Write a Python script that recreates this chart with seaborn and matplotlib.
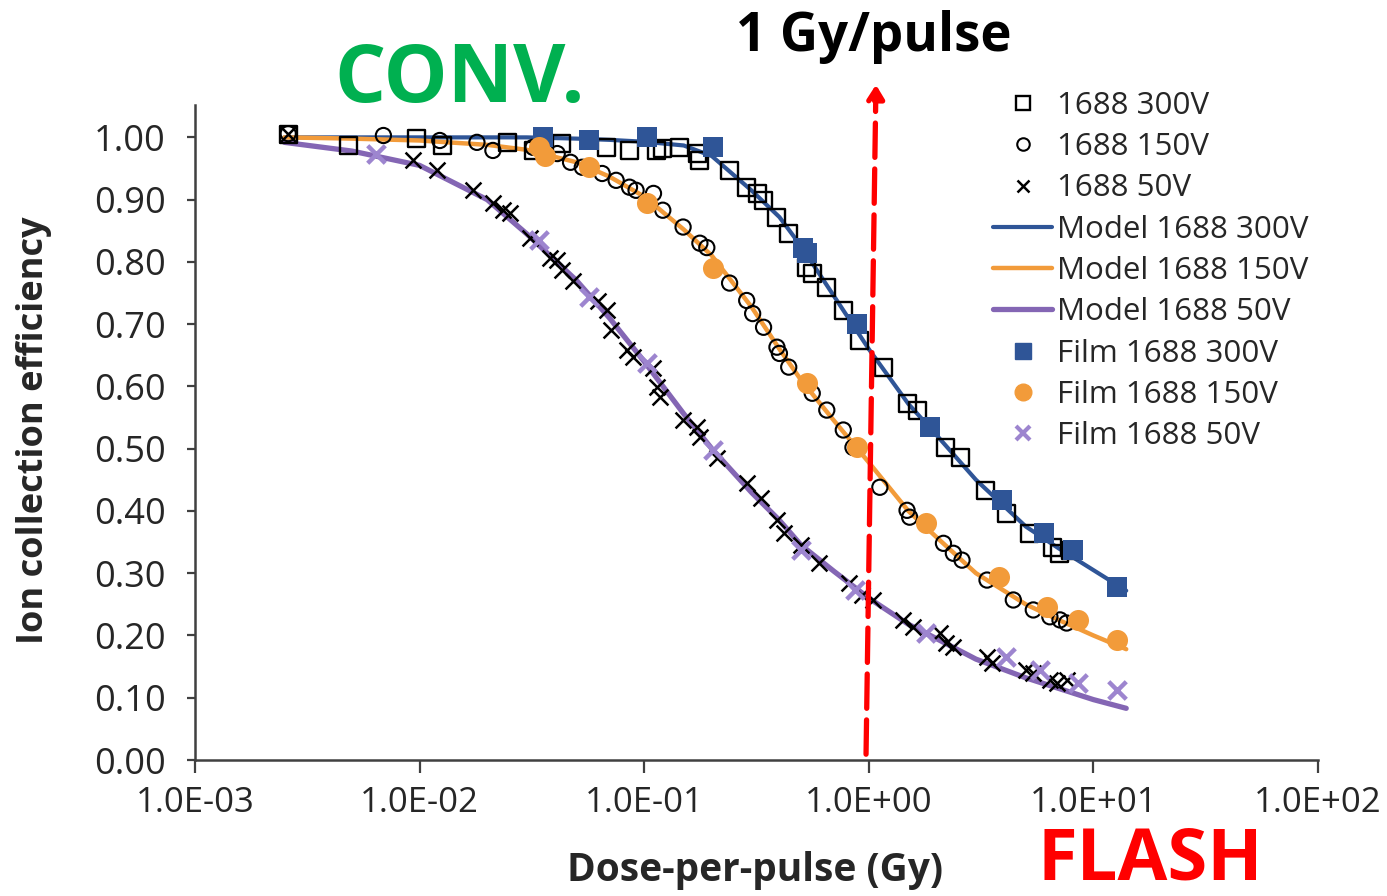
import numpy as np
import pandas as pd
import matplotlib
matplotlib.use("Agg")
import matplotlib.pyplot as plt
import seaborn as sns
from matplotlib.lines import Line2D
from matplotlib.patches import FancyArrowPatch
from matplotlib.ticker import FixedLocator, FuncFormatter, NullLocator

# ---------------- data ----------------
MODEL_DOSE = [0.0025, 0.005, 0.01, 0.02, 0.03, 0.05, 0.07, 0.1, 0.15, 0.2, 0.3,
              0.4, 0.5, 0.7, 1.0, 1.5, 2, 3, 5, 7, 10, 14]
MODEL_300 = [1.0, 1.0, 1.0, 1.0, 1.0, 0.998, 0.996, 0.993, 0.987, 0.97, 0.915,
             0.872, 0.825, 0.745, 0.66, 0.572, 0.522, 0.45, 0.375, 0.34, 0.305, 0.272]
MODEL_150 = [1.0, 0.998, 0.995, 0.988, 0.98, 0.96, 0.937, 0.905, 0.852, 0.81, 0.728,
             0.66, 0.61, 0.545, 0.478, 0.40, 0.358, 0.30, 0.25, 0.225, 0.20, 0.178]
MODEL_50 = [0.992, 0.978, 0.955, 0.90, 0.845, 0.77, 0.71, 0.64, 0.556, 0.50, 0.43,
            0.385, 0.345, 0.303, 0.26, 0.218, 0.195, 0.162, 0.132, 0.115, 0.097, 0.083]

DOSE_300 = [0.0026, 0.0048, 0.0097, 0.0126, 0.0245, 0.032, 0.043, 0.068, 0.086, 0.113,
            0.121, 0.144, 0.172, 0.177, 0.24, 0.286, 0.318, 0.34, 0.39, 0.44, 0.53,
            0.56, 0.65, 0.77, 0.91, 1.16, 1.48, 1.64, 2.2, 2.55, 3.3, 4.1, 5.2, 6.6,
            7.1, 7.9]
ICE_300 = [1.005, 0.987, 0.998, 0.987, 0.992, 0.979, 0.99, 0.984, 0.979, 0.979,
           0.982, 0.984, 0.974, 0.963, 0.947, 0.92, 0.91, 0.899, 0.872, 0.846, 0.791,
           0.782, 0.759, 0.722, 0.674, 0.631, 0.573, 0.562, 0.502, 0.486, 0.433, 0.396,
           0.364, 0.342, 0.332, 0.337]

DOSE_150 = [0.0026, 0.0069, 0.0123, 0.018, 0.0212, 0.032, 0.041, 0.047, 0.053, 0.065,
            0.075, 0.086, 0.092, 0.11, 0.121, 0.149, 0.177, 0.19, 0.24, 0.286, 0.304,
            0.34, 0.39, 0.40, 0.44, 0.56, 0.65, 0.77, 0.85, 1.12, 1.48, 1.52, 2.15,
            2.38, 2.6, 3.36, 4.4, 5.4, 6.4, 7.1, 7.6]
ICE_150 = [1.006, 1.003, 0.995, 0.992, 0.979, 0.984, 0.974, 0.96, 0.952, 0.942,
           0.931, 0.92, 0.915, 0.91, 0.883, 0.856, 0.83, 0.823, 0.766, 0.738, 0.717,
           0.695, 0.663, 0.653, 0.631, 0.589, 0.562, 0.53, 0.502, 0.438, 0.401, 0.39,
           0.348, 0.332, 0.321, 0.289, 0.257, 0.241, 0.23, 0.225, 0.22]

DOSE_50 = [0.0026, 0.0093, 0.0119, 0.0173, 0.0212, 0.0235, 0.0253, 0.031, 0.038, 0.041,
           0.043, 0.048, 0.062, 0.068, 0.071, 0.084, 0.089, 0.109, 0.114, 0.117, 0.149,
           0.172, 0.177, 0.21, 0.286, 0.33, 0.39, 0.42, 0.50, 0.60, 0.82, 0.93, 1.04,
           1.42, 1.58, 2.07, 2.2, 2.38, 3.36, 3.55, 5.0, 5.4, 6.4, 6.9, 7.6]
ICE_50 = [1.006, 0.963, 0.947, 0.915, 0.894, 0.883, 0.878, 0.839, 0.807, 0.803,
          0.787, 0.770, 0.738, 0.722, 0.690, 0.658, 0.647, 0.630, 0.599, 0.583, 0.546,
          0.535, 0.518, 0.485, 0.445, 0.420, 0.385, 0.364, 0.345, 0.316, 0.285, 0.265,
          0.257, 0.225, 0.214, 0.204, 0.188, 0.181, 0.165, 0.156, 0.144, 0.140, 0.128,
          0.124, 0.128]

FILM_DOSE_300 = [0.0355, 0.057, 0.103, 0.203, 0.51, 0.53, 0.89, 1.87, 3.9, 6.0, 8.1, 12.7]
FILM_ICE_300 = [1.0, 0.995, 1.0, 0.984, 0.823, 0.814, 0.701, 0.535, 0.417, 0.364, 0.337, 0.278]
FILM_DOSE_150 = [0.034, 0.036, 0.057, 0.103, 0.203, 0.53, 0.89, 1.8, 3.8, 6.2, 8.5, 12.7]
FILM_ICE_150 = [0.985, 0.97, 0.952, 0.894, 0.791, 0.605, 0.502, 0.380, 0.294, 0.246, 0.225, 0.193]
FILM_DOSE_50 = [0.0064, 0.034, 0.057, 0.103, 0.203, 0.50, 0.87, 1.8, 4.1, 5.8, 8.5, 12.7]
FILM_ICE_50 = [0.974, 0.835, 0.743, 0.637, 0.498, 0.337, 0.273, 0.204, 0.165, 0.144, 0.124, 0.112]

X_TICKS = [1e-3, 1e-2, 1e-1, 1e0, 1e1, 1e2]
X_TICK_LABELS = ["1.0E-03", "1.0E-02", "1.0E-01", "1.0E+00", "1.0E+01", "1.0E+02"]
Y_TICKS = [0.0, 0.1, 0.2, 0.3, 0.4, 0.5, 0.6, 0.7, 0.8, 0.9, 1.0]

# ---------------- style ----------------
sns.set_style("ticks")
FONT = ["Open Sans", "DejaVu Sans"]
plt.rcParams["font.family"] = FONT

BLUE = "#2F5597"
ORANGE = "#F29B3A"
PURPLE = "#8466B4"
PURPLE_FILM = "#9D85CF"

fig = plt.figure(figsize=(13.87, 8.96), dpi=100)
ax = fig.add_axes([195 / 1387, 136 / 896, (1318 - 195) / 1387, (760 - 105) / 896])

models = pd.DataFrame({
    "dose": MODEL_DOSE * 3,
    "ice": MODEL_300 + MODEL_150 + MODEL_50,
    "series": ["Model 1688 300V"] * len(MODEL_DOSE) + ["Model 1688 150V"] * len(MODEL_DOSE)
              + ["Model 1688 50V"] * len(MODEL_DOSE),
})
for name, col, lw in [("Model 1688 300V", BLUE, 3.0),
                      ("Model 1688 150V", ORANGE, 3.2),
                      ("Model 1688 50V", PURPLE, 3.8)]:
    sub = models[models["series"] == name]
    sns.lineplot(data=sub, x="dose", y="ice", ax=ax, color=col, lw=lw,
                 legend=False, zorder=2, sort=True)

# measured (open black markers)
sns.scatterplot(x=DOSE_300, y=ICE_300, ax=ax, marker="s", s=150, facecolor="none",
                edgecolor="black", linewidth=1.7, zorder=3)
sns.scatterplot(x=DOSE_150, y=ICE_150, ax=ax, marker="o", s=120, facecolor="none",
                edgecolor="black", linewidth=1.5, zorder=3)
sns.scatterplot(x=DOSE_50, y=ICE_50, ax=ax, marker="x", s=130, color="black",
                linewidth=1.8, zorder=3)
# films
sns.scatterplot(x=FILM_DOSE_300, y=FILM_ICE_300, ax=ax, marker="s", s=210, color=BLUE,
                edgecolor=BLUE, linewidth=0, zorder=4)
sns.scatterplot(x=FILM_DOSE_150, y=FILM_ICE_150, ax=ax, marker="o", s=230, color=ORANGE,
                edgecolor=ORANGE, linewidth=0, zorder=4)
sns.scatterplot(x=FILM_DOSE_50, y=FILM_ICE_50, ax=ax, marker="x", s=160, color=PURPLE_FILM,
                linewidth=3.2, zorder=4)

ax.set_xscale("log")
ax.set_xlim(1e-3, 1e2)
ax.set_ylim(0, 1.052)
ax.xaxis.set_major_locator(FixedLocator(X_TICKS))
ax.xaxis.set_minor_locator(NullLocator())
ax.set_xticks(X_TICKS)
ax.set_xticklabels(X_TICK_LABELS)
ax.set_yticks(Y_TICKS)
ax.yaxis.set_major_formatter(FuncFormatter(lambda v, p: f"{v:.2f}"))
ax.tick_params(axis="x", labelsize=25, length=9, width=1.6, color="#404040", pad=10)
ax.tick_params(axis="y", labelsize=26, length=6, width=1.6, color="#404040", pad=15)
sns.despine(ax=ax)
for sp in ["left", "bottom"]:
    ax.spines[sp].set_color("#404040")
    ax.spines[sp].set_linewidth(1.8)
ax.set_xlabel("")
ax.set_ylabel("Ion collection efficiency", fontsize=26, fontweight="bold")
ax.yaxis.set_label_coords((52 - 195) / 1123, (760 - 430) / 655)

fig.text(755 / 1387, 1 - 870 / 896, "Dose-per-pulse (Gy)", fontsize=28, fontweight="bold",
         ha="center", va="center")
fig.text(460 / 1387, 1 - 81 / 896, "CONV.", fontsize=58, fontweight="bold",
         color="#00B050", ha="center", va="center")
fig.text(874 / 1387, 1 - 37 / 896, "1 Gy/pulse", fontsize=38, fontweight="bold",
         color="black", ha="center", va="center")
fig.text(1150 / 1387, 1 - 879 / 896, "FLASH", fontsize=52, fontweight="bold",
         color="#FF0000", ha="center", va="baseline")

arrow = FancyArrowPatch((866 / 1387, 1 - 757 / 896), (876 / 1387, 1 - 82 / 896),
                        transform=fig.transFigure, arrowstyle="-|>,head_length=8,head_width=5",
                        color="#FF0000", lw=3.8, linestyle=(0, (6.5, 2.2)), zorder=10)
fig.add_artist(arrow)

handles = [
    Line2D([], [], ls="none", marker="s", ms=10, mfc="none", mec="black", mew=1.7),
    Line2D([], [], ls="none", marker="o", ms=9, mfc="none", mec="black", mew=1.5),
    Line2D([], [], ls="none", marker="x", ms=9, color="black", mew=1.8),
    Line2D([], [], color=BLUE, lw=3.0),
    Line2D([], [], color=ORANGE, lw=3.2),
    Line2D([], [], color=PURPLE, lw=3.8),
    Line2D([], [], ls="none", marker="s", ms=11, color=BLUE),
    Line2D([], [], ls="none", marker="o", ms=12, color=ORANGE),
    Line2D([], [], ls="none", marker="x", ms=10, color=PURPLE_FILM, mew=3),
]
labels = ["1688 300V", "1688 150V", "1688 50V", "Model 1688 300V", "Model 1688 150V",
          "Model 1688 50V", "Film 1688 300V", "Film 1688 150V", "Film 1688 50V"]
fig.legend(handles, labels, loc="upper left", bbox_to_anchor=(993 / 1387, 1 - 91 / 896),
           frameon=False, fontsize=22.5, handlelength=1.9, handletextpad=0.15,
           labelspacing=0.36, borderpad=0, borderaxespad=0)

fig.savefig("out.png", dpi=100)
